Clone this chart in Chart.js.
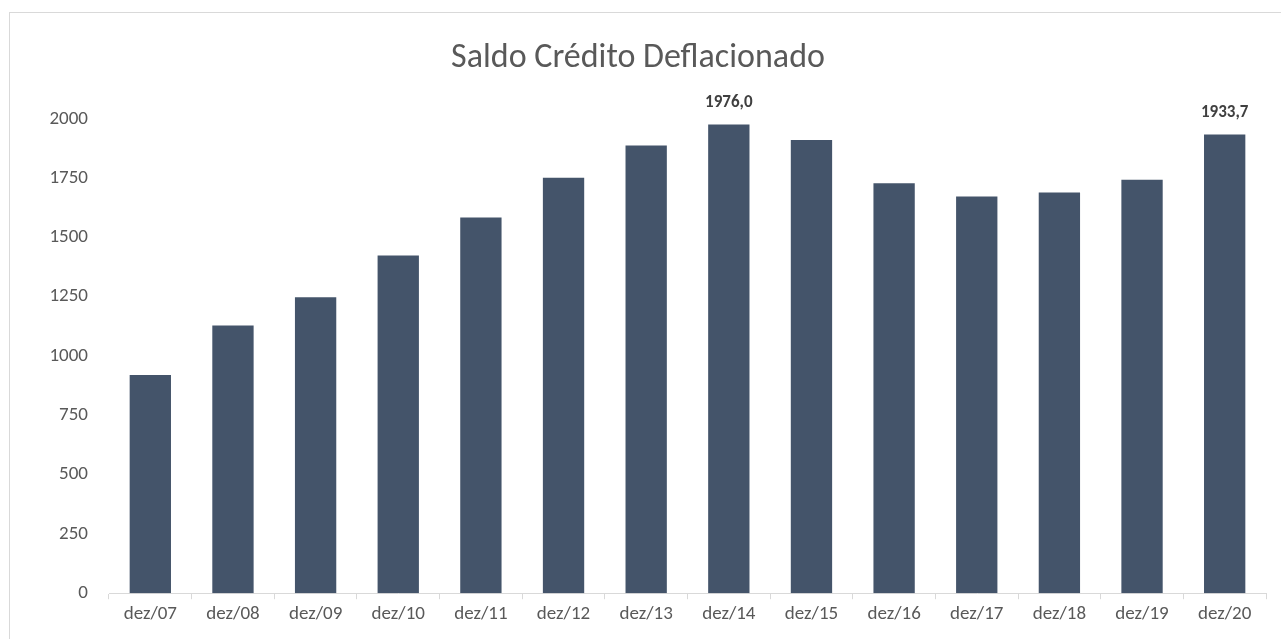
<!DOCTYPE html>
<html>
<head>
<meta charset="utf-8">
<script src="https://cdn.jsdelivr.net/npm/chart.js@4"></script>
<style>
  html, body { margin: 0; padding: 0; background: #ffffff; overflow: hidden; }
  #frame {
    position: absolute; left: 9px; top: 12px;
    width: 1272px; height: 627px;
    border-left: 1px solid #d9d9d9; border-top: 1px solid #d9d9d9;
    box-sizing: border-box; background: #ffffff;
  }
  #wrap { position: absolute; left: 0; top: 0; width: 1271px; height: 626px; }
</style>
</head>
<body>
<div id="frame"><div id="wrap"><canvas id="c"></canvas></div></div>
<script>
const categories = ["dez/07","dez/08","dez/09","dez/10","dez/11","dez/12","dez/13","dez/14","dez/15","dez/16","dez/17","dez/18","dez/19","dez/20"];
const saldoValues = [920, 1129, 1248, 1424, 1584, 1752, 1887, 1976.0, 1911, 1728, 1672, 1689, 1743, 1933.7];
const labeledIndices = [7, 13];
const yTicks = [0, 250, 500, 750, 1000, 1250, 1500, 1750, 2000];
const chartTitle = "Saldo Crédito Deflacionado";

const FONT = "Carlito, Lato, 'Open Sans', sans-serif";

const dataLabelPlugin = {
  id: 'dataLabels',
  afterDatasetsDraw(chart) {
    const ctx = chart.ctx;
    const meta = chart.getDatasetMeta(0);
    ctx.save();
    ctx.font = "bold 17px " + FONT;
    ctx.fillStyle = "#404040";
    ctx.textAlign = "center";
    ctx.textBaseline = "middle";
    labeledIndices.forEach(i => {
      const bar = meta.data[i];
      const v = saldoValues[i];
      const txt = v.toFixed(1).replace('.', ',');
      ctx.fillText(txt, bar.x, bar.y - 22);
    });
    ctx.restore();
  }
};

new Chart(document.getElementById('c'), {
  type: 'bar',
  data: {
    labels: categories,
    datasets: [{
      label: 'Saldo',
      data: saldoValues,
      backgroundColor: '#44546A',
      borderWidth: 0,
      categoryPercentage: 1.0,
      barPercentage: 0.5
    }]
  },
  options: {
    responsive: true,
    maintainAspectRatio: false,
    animation: false,
    layout: { padding: { left: 0, right: 15, top: 0, bottom: 9 } },
    plugins: {
      legend: { display: false },
      tooltip: { enabled: false },
      title: {
        display: true,
        text: chartTitle,
        color: '#595959',
        font: { family: FONT, size: 34, weight: 'normal' },
        padding: { top: 25, bottom: 40 }
      }
    },
    scales: {
      x: {
        offset: true,
        grid: {
          display: true,
          offset: true,
          drawOnChartArea: false,
          drawTicks: true,
          tickLength: 6,
          color: '#d9d9d9'
        },
        border: { display: true, color: '#d9d9d9', width: 1 },
        ticks: {
          color: '#595959',
          font: { family: FONT, size: 19 },
          padding: 4,
          maxRotation: 0,
          autoSkip: false
        }
      },
      y: {
        min: 0,
        max: 2000,
        afterBuildTicks(scale) { scale.ticks = yTicks.map(v => ({ value: v })); },
        afterFit(scale) { scale.width = 99; },
        grid: { display: false, drawTicks: false },
        border: { display: false },
        ticks: {
          color: '#595959',
          font: { family: FONT, size: 19 },
          padding: 21,
          callback: (v) => String(v)
        }
      }
    }
  },
  plugins: [dataLabelPlugin]
});
</script>
</body>
</html>
